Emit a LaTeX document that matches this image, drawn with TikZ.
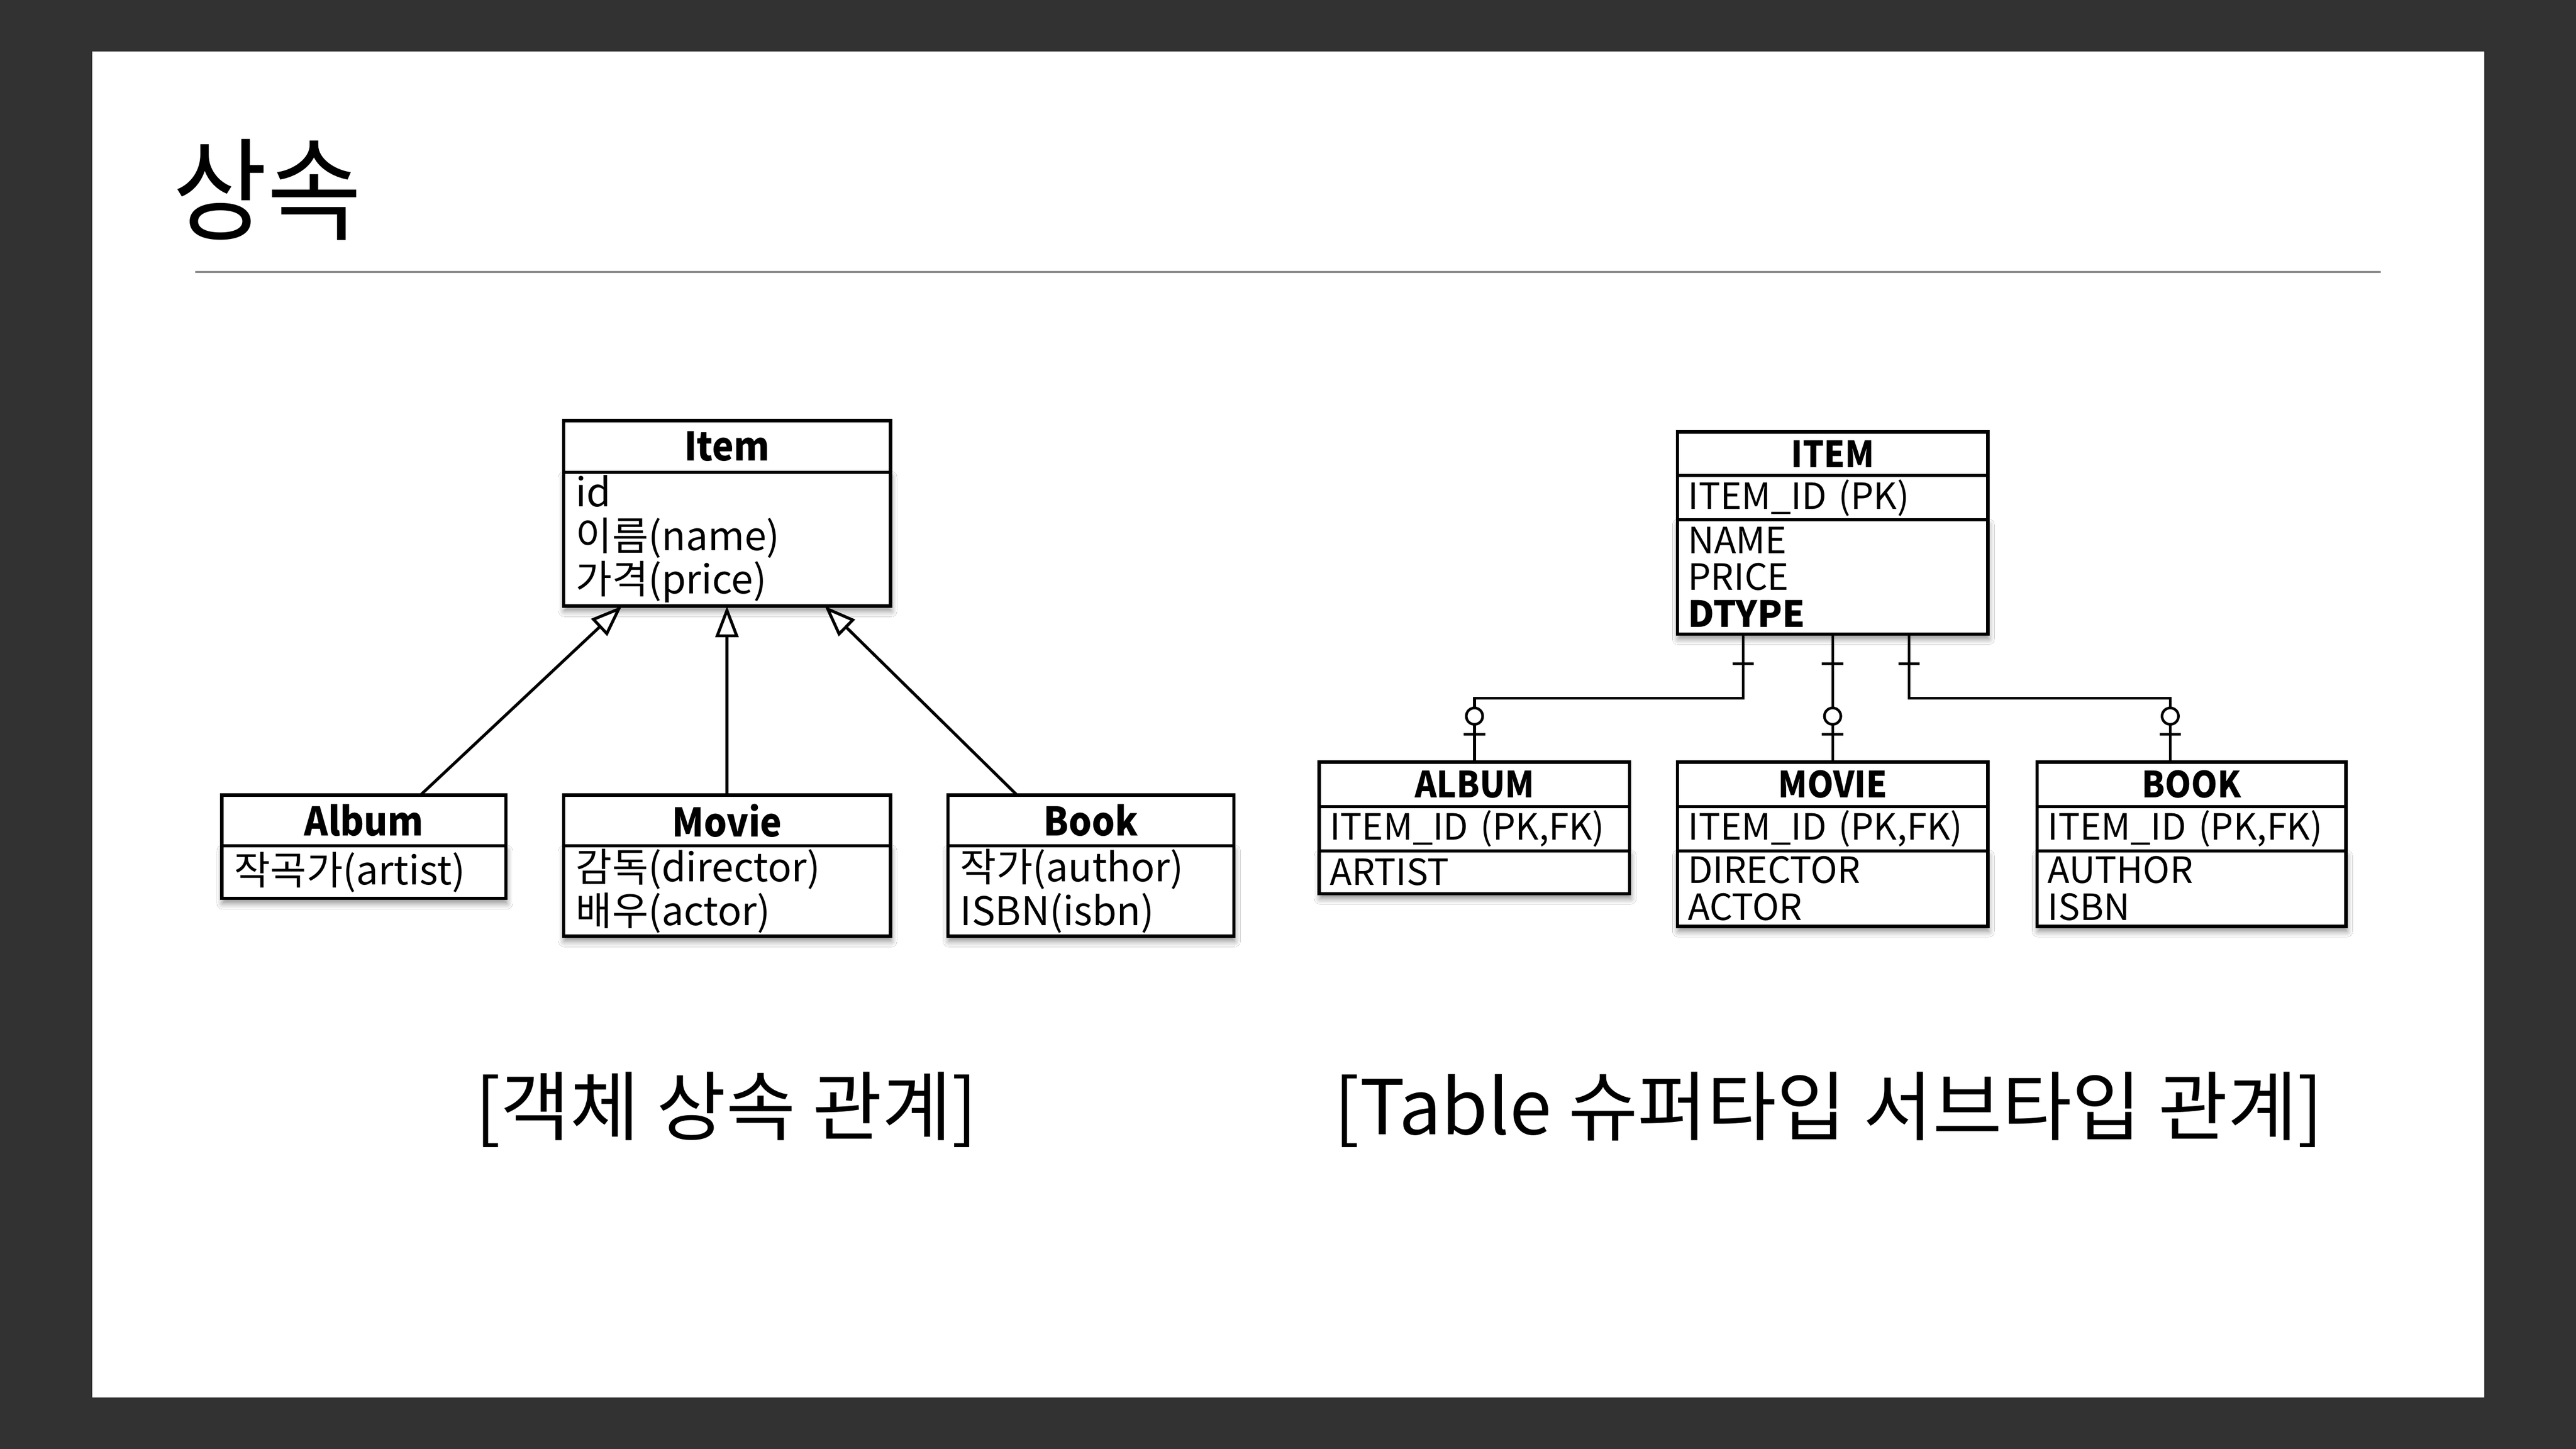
\documentclass[tikz,border=0pt]{standalone}
\usepackage{fontspec}
\setmainfont{Noto Sans CJK KR}
\newfontfamily\narrowfont{Noto Sans CJK KR}[FakeStretch=0.92]
\usepackage{tikz}
\usetikzlibrary{arrows.meta,positioning,shadows.blur}

\definecolor{slidebg}{HTML}{323232}
\definecolor{rulegray}{HTML}{8C8C8C}

\begin{document}
\begin{tikzpicture}[x=1pt, y=-1pt,
    boxshadow/.style={blur shadow={shadow xshift=0.5pt, shadow yshift=-3pt, shadow blur radius=3.5pt, shadow blur steps=8, shadow opacity=45}},
    classhead/.style={draw, line width=2pt, fill=white, anchor=north west, inner sep=0pt, outer sep=0pt, font=\narrowfont\fontsize{24}{26.5}\selectfont\bfseries},
    classbody/.style={draw, line width=2pt, fill=white, anchor=north west, inner xsep=7.5pt, inner ysep=0pt, outer sep=0pt, align=left, text width=#1, boxshadow, font=\fontsize{24}{26.5}\selectfont},
    tablehead/.style={draw, line width=2pt, fill=white, anchor=north west, inner sep=0pt, outer sep=0pt, font=\narrowfont\fontsize{22}{22.5}\selectfont\bfseries},
    tablerow/.style={draw, line width=2pt, fill=white, anchor=north west, inner xsep=6.5pt, inner ysep=0pt, outer sep=0pt, align=left, text width=#1, font=\fontsize{22}{22.5}\selectfont},
    inherit/.style={line width=1.8pt, -{Triangle[fill=white, length=19pt, width=14pt]}},
    relation/.style={line width=1.6pt}]

  % slide
  \useasboundingbox (0,0) rectangle (1568,882);
  \fill[slidebg] (0,0) rectangle (1568,882);
  \fill[white] (56,31.3) rectangle (1512.3,850.8);
  \node[anchor=base west, inner sep=0pt, font=\narrowfont\fontsize{68}{74}\selectfont] (title) at (105,141) {상속};
  \draw[rulegray, line width=1.3pt] (119,165.5) -- (1449,165.5);

  % class diagram
  \node[classhead, minimum width=199pt, minimum height=31.5pt] (itemh) at (343,256) {Item};
  \node[classbody=184pt, minimum height=81.5pt] (itemb) at (itemh.south west) {id\\이름(name)\\가격(price)};
  \node[classhead, minimum width=173pt, minimum height=31pt] (albumh) at (135,484) {Album};
  \node[classbody=158pt, minimum height=32pt] (albumb) at (albumh.south west) {작곡가(artist)};
  \node[classhead, minimum width=199pt, minimum height=31pt] (movieh) at (343,484) {Movie};
  \node[classbody=184pt, minimum height=55pt] (movieb) at (movieh.south west) {감독(director)\\배우(actor)};
  \node[classhead, minimum width=174pt, minimum height=31pt] (bookh) at (577,484) {Book};
  \node[classbody=159pt, minimum height=55pt] (bookb) at (bookh.south west) {작가(author)\\ISBN(isbn)};

  \draw[inherit] ([xshift=34.5pt]albumh.north) -- ([xshift=-64pt]itemb.south);
  \draw[inherit] (movieh.north) -- (itemb.south);
  \draw[inherit] ([xshift=-45pt]bookh.north) -- ([xshift=59.5pt]itemb.south);

  % tables
  \node[tablehead, minimum width=189pt, minimum height=26.5pt] (itemt) at (1021,263) {ITEM};
  \node[tablerow=176pt, minimum height=27pt] (itemk) at (itemt.south west) {ITEM\_ID (PK)};
  \node[tablerow=176pt, minimum height=69.5pt, boxshadow] (itemc) at (itemk.south west) {NAME\\PRICE\\\textbf{DTYPE}};
  \node[tablehead, minimum width=189pt, minimum height=27pt] (albumt) at (803,464) {ALBUM};
  \node[tablerow=176pt, minimum height=27pt] (albumk) at (albumt.south west) {ITEM\_ID (PK,FK)};
  \node[tablerow=176pt, minimum height=26pt, boxshadow] (albumc) at (albumk.south west) {ARTIST};
  \node[tablehead, minimum width=189pt, minimum height=27pt] (moviet) at (1021,464) {MOVIE};
  \node[tablerow=176pt, minimum height=27pt] (moviek) at (moviet.south west) {ITEM\_ID (PK,FK)};
  \node[tablerow=176pt, minimum height=46pt, boxshadow] (moviec) at (moviek.south west) {DIRECTOR\\ACTOR};
  \node[tablehead, minimum width=188pt, minimum height=27pt] (bookt) at (1240,464) {BOOK};
  \node[tablerow=175pt, minimum height=27pt] (bookk) at (bookt.south west) {ITEM\_ID (PK,FK)};
  \node[tablerow=175pt, minimum height=46pt, boxshadow] (bookc) at (bookk.south west) {AUTHOR\\ISBN};

  \coordinate (fa) at ([xshift=-54.5pt]itemc.south);
  \coordinate (fm) at (itemc.south);
  \coordinate (fb) at ([xshift=46.5pt]itemc.south);
  \coordinate (ta) at (albumt.north);
  \coordinate (tm) at (moviet.north);
  \coordinate (tb) at ([xshift=-13pt]bookt.north);
  \draw[relation] (fa) -- ++(0,39) -| (ta);
  \draw[relation] (fm) -- (tm);
  \draw[relation] (fb) -- ++(0,39) -| (tb);
  \foreach \f/\t in {fa/ta, fm/tm, fb/tb} {
    \draw[relation] ([xshift=-6.5pt,yshift=-18pt]\f) -- ([xshift=6.5pt,yshift=-18pt]\f);
    \draw[relation] ([xshift=-6.5pt,yshift=17pt]\t) -- ([xshift=6.5pt,yshift=17pt]\t);
    \draw[relation, fill=white] ([yshift=28pt]\t) circle (5pt);
  }

  % captions
  \node[inner sep=0pt, font=\fontsize{46}{50}\selectfont] (classcap) at (442,675.5) {[객체 상속 관계]};
  \node[inner sep=0pt, font=\fontsize{46}{50}\selectfont] (tablecap) at (1113,675.5) {[Table 슈퍼타입 서브타입 관계]};
\end{tikzpicture}
\end{document}
